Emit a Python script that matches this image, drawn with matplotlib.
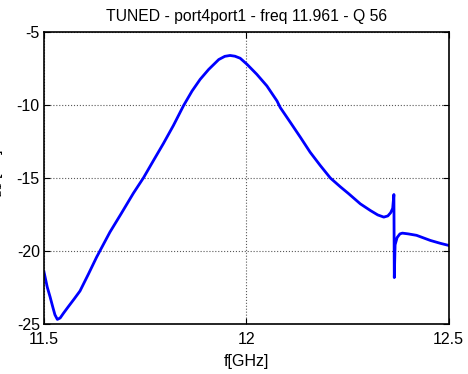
import matplotlib
matplotlib.use("Agg")
import matplotlib.pyplot as plt

freq_ghz = [11.500, 11.508, 11.515, 11.522, 11.527, 11.533, 11.540, 11.548, 11.560,
            11.575, 11.589, 11.610, 11.630, 11.663, 11.690, 11.721, 11.746, 11.771,
            11.795, 11.820, 11.845, 11.866, 11.886, 11.907, 11.932, 11.947, 11.960,
            11.972, 11.985, 12.002, 12.026, 12.051, 12.076, 12.084, 12.109, 12.134,
            12.158, 12.183, 12.208, 12.233, 12.253, 12.282, 12.307, 12.325, 12.340,
            12.350, 12.357, 12.362, 12.365, 12.366, 12.368, 12.373, 12.380, 12.386,
            12.400, 12.421, 12.455, 12.480, 12.500]
s21_db = [-21.46, -22.50, -23.17, -23.90, -24.40, -24.72, -24.62, -24.30, -23.85,
          -23.30, -22.77, -21.60, -20.45, -18.73, -17.50, -16.06, -15.00, -13.80,
          -12.66, -11.41, -10.05, -9.05, -8.25, -7.57, -6.89, -6.67, -6.61,
          -6.66, -6.80, -7.22, -7.90, -8.70, -9.73, -10.18, -11.20, -12.23,
          -13.25, -14.16, -15.02, -15.63, -16.09, -16.79, -17.25, -17.55, -17.70,
          -17.62, -17.40, -17.10, -16.15, -21.85, -19.60, -19.10, -18.85, -18.80,
          -18.85, -18.95, -19.30, -19.50, -19.64]

x_ticks = [11.5, 12, 12.5]
x_tick_labels = ["11.5", "12", "12.5"]
y_ticks = [-25, -20, -15, -10, -5]
y_tick_labels = ["-25", "-20", "-15", "-10", "-5"]

title = "TUNED - port4port1 - freq 11.961 - Q 56"

plt.rcParams['font.family'] = ['Liberation Sans', 'DejaVu Sans']
plt.rcParams['mathtext.fontset'] = 'custom'
plt.rcParams['mathtext.rm'] = 'Liberation Sans'
plt.rcParams['mathtext.it'] = 'Liberation Sans'

fig = plt.figure(figsize=(4.68, 3.74), dpi=100)
ax = fig.add_axes([44/468, 1-323.5/374, (448.5-44)/468, (323.5-32)/374])

ax.plot(freq_ghz, s21_db, color='#0000ff', lw=2.0, solid_joinstyle='round')
ax.set_xlim(11.5, 12.5)
ax.set_ylim(-25, -5)
ax.set_xticks(x_ticks)
ax.set_xticklabels(x_tick_labels)
ax.set_yticks(y_ticks)
ax.set_yticklabels(y_tick_labels)
ax.grid(True, linestyle=':', color='0.35', lw=0.8)
ax.tick_params(direction='in', top=True, right=True, length=4, width=0.8,
               labelsize=11.5)
ax.tick_params(axis='x', pad=6)
ax.tick_params(axis='y', pad=3)
for s in ax.spines.values():
    s.set_linewidth(1.2)
ax.set_title(title, fontsize=11.3, pad=8)
ax.set_xlabel("f[GHz]", fontsize=11.5, labelpad=5)

fig.text(0.5/468, 1-178/374, "S$_{21}$ [dB]", rotation=90, fontsize=11.5,
         ha='center', va='baseline', rotation_mode='anchor')

fig.savefig("out.png", dpi=100)
